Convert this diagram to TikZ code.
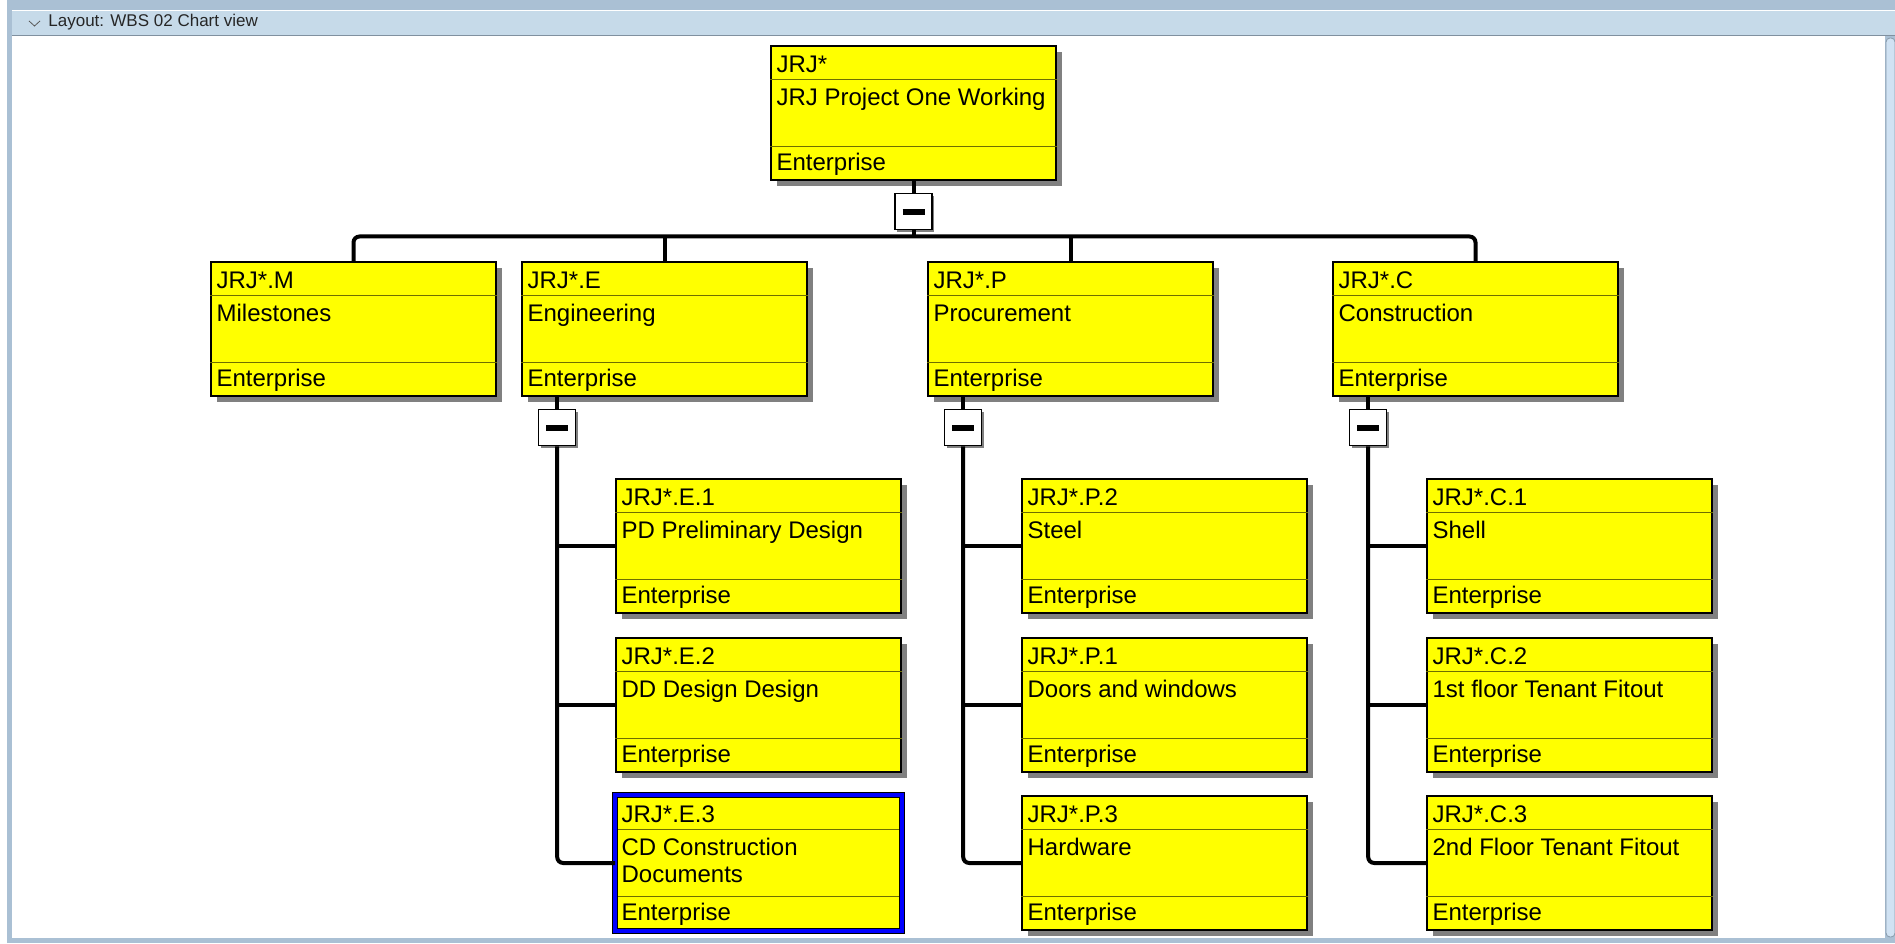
\documentclass[tikz,border=0pt]{standalone}
\usepackage{fontspec}
\setmainfont{Liberation Sans}
\usetikzlibrary{calc,positioning,shadows}
\definecolor{framecol}{RGB}{170,192,212}
\definecolor{headcol}{RGB}{198,218,233}
\definecolor{scrollcol}{RGB}{208,226,243}
\definecolor{wbsyellow}{RGB}{255,255,0}
\definecolor{rowcol}{RGB}{110,110,0}
\newcommand{\wbsfont}{\fontsize{12pt}{13.5pt}\selectfont}
\newcommand{\minusbar}{\rule[-1.5pt]{11pt}{3pt}}
\begin{document}
\begin{tikzpicture} [x=0.5pt,y=0.5pt,{wbs/.style={rectangle,draw=black,line width=0.8pt,fill=wbsyellow,minimum width=142.5pt,minimum height=67pt,inner sep=0pt,drop shadow={shadow xshift=3pt,shadow yshift=-3pt,fill=gray,opacity=1}}},{wbsplain/.style={rectangle,draw=black,line width=0.8pt,fill=wbsyellow,minimum width=142.5pt,minimum height=67pt,inner sep=0pt}},{selframe/.style={draw=black,line width=0.5pt,double=blue,double distance=2pt}},{rowline/.style={draw=rowcol,line width=0.5pt}},{txt/.style={font=\wbsfont,text=black,inner sep=0pt,anchor=base west}},{minus/.style={rectangle,draw=black,line width=0.7pt,fill=white,minimum width=18.5pt,minimum height=18pt,inner sep=0pt,drop shadow={shadow xshift=1pt,shadow yshift=-1pt,fill=gray,opacity=1}}},{link/.style={draw=black,line width=2pt}}]
	\useasboundingbox (0,0) rectangle (1895,943);
	%%window frame
	\fill [white] (0,0) rectangle (1895,943);
	\fill [framecol] (7,0) rectangle (1895,943);
	\fill [white] (12,5) rectangle (1885,908);
	\fill [headcol] (12,908) rectangle (1895,932);
	\draw [white] (12,932.5) -- (1895,932.5);
	\draw [framecol!75!black] (12,908) -- (1895,908);
	\draw [framecol!80!black,fill=scrollcol,rounded corners=2pt] (1886,6) rectangle (1895,905);
	\draw [gray!70!black,line width=0.4pt] (29,922) -- (34.5,917) -- (40,922);
	\node [anchor=west,inner sep=0pt,font=\fontsize{8.5pt}{10pt}\selectfont,text=black!85] (title) at (48,921) {Layout: WBS 02 Chart view};
	%%WBS boxes
	\node [wbs] (root) at (913.5,830) {};
	\node [wbs] (m) at (353.5,614) {};
	\node [wbs] (e) at (664.5,614) {};
	\node [wbs] (p) at (1070.5,614) {};
	\node [wbs] (c) at (1475.5,614) {};
	\node [wbs] (e1) at ($(e)+(94,-217)$) {};
	\node [wbs] (e2) at ($(e)+(94,-376)$) {};
	\node [wbsplain] (e3) at ($(e)+(94,-534)$) {};
	\node [wbs] (p2) at ($(p)+(94,-217)$) {};
	\node [wbs] (p1) at ($(p)+(94,-376)$) {};
	\node [wbs] (p3) at ($(p)+(94,-534)$) {};
	\node [wbs] (c1) at ($(c)+(94,-217)$) {};
	\node [wbs] (c2) at ($(c)+(94,-376)$) {};
	\node [wbs] (c3) at ($(c)+(94,-534)$) {};
	%%rows and texts
	\foreach \n/\code/\desc in {root/JRJ*/JRJ Project One Working, m/JRJ*.M/Milestones, e/JRJ*.E/Engineering, p/JRJ*.P/Procurement, c/JRJ*.C/Construction, e1/JRJ*.E.1/PD Preliminary Design, e2/JRJ*.E.2/DD Design Design, e3/JRJ*.E.3/{CD Construction\\Documents}, p2/JRJ*.P.2/Steel, p1/JRJ*.P.1/Doors and windows, p3/JRJ*.P.3/Hardware, c1/JRJ*.C.1/Shell, c2/JRJ*.C.2/1st floor Tenant Fitout, c3/JRJ*.C.3/2nd Floor Tenant Fitout}
	{
		\draw [rowline] ($(\n.north west)+(0,-34)$) -- ($(\n.north east)+(0,-34)$);
		\draw [rowline] ($(\n.south west)+(0,34)$) -- ($(\n.south east)+(0,34)$);
		\node [txt] (\n-code) at ($(\n.north west)+(6,-27)$) {\code};
		\node [txt] (\n-desc) at ($(\n.north west)+(6,-60)$) {\begin{tabular}[t]{@{}l@{}}\desc\end{tabular}};
		\node [txt] (\n-org) at ($(\n.south west)+(6,10)$) {Enterprise};
	}
	%%selected box
	\draw [selframe] (e3.south west) rectangle (e3.north east);
	%%root to first level
	\node [minus] (rootminus) at ($(root.south)+(0,-31)$) {\minusbar};
	\coordinate (bus) at ($(rootminus.south)+(0,-6)$);
	\draw [link] (root.south) -- (rootminus.north);
	\draw [link] (rootminus.south) -- (bus);
	\draw [link,rounded corners=3pt] (m.north) |- (bus) -| (c.north);
	\draw [link] (e.north) -- (e.north |- bus);
	\draw [link] (p.north) -- (p.north |- bus);
	%%first level to second level
	\foreach \n in {e,p,c}
	{
		\node [minus] (\n minus) at ($(\n.south west)+(36,-31)$) {\minusbar};
		\draw [link] (\n.south -| \n minus) -- (\n minus.north);
		\draw [link,rounded corners=3pt] (\n minus.south) |- (\n3.west);
	}
	\draw [link] (e1.west -| eminus) -- (e1.west);
	\draw [link] (e2.west -| eminus) -- (e2.west);
	\draw [link] (p2.west -| pminus) -- (p2.west);
	\draw [link] (p1.west -| pminus) -- (p1.west);
	\draw [link] (c1.west -| cminus) -- (c1.west);
	\draw [link] (c2.west -| cminus) -- (c2.west);
\end{tikzpicture}
\end{document}
